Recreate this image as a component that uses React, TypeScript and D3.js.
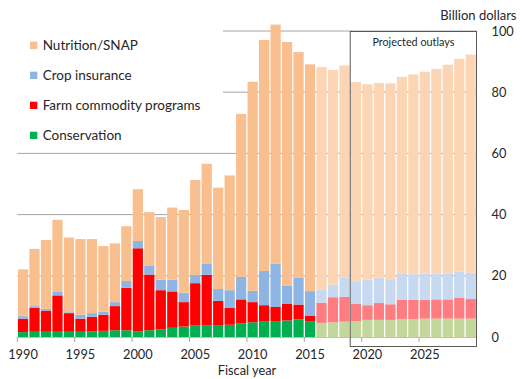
import React from "react";
import * as d3 from "d3";

const years: number[] = d3.range(1990, 2030);
const conservation = [1.6,1.7,1.7,1.7,1.7,1.7,1.9,2.0,2.2,2.2,1.9,2.2,2.4,3.0,3.4,3.7,3.7,3.7,4.0,4.5,4.8,5.2,5.2,5.4,5.8,5.2,4.6,4.8,5.0,5.2,5.6,5.6,5.6,5.9,5.8,6.0,6.0,6.0,6.0,6.0];
const commodity = [4.4,7.8,6.9,11.9,6.1,4.3,4.7,5.3,7.9,13.9,27.1,18.2,12.9,11.9,8.0,13.9,16.6,8.1,5.5,7.8,6.6,5.2,4.6,5.4,4.8,1.8,6.6,8.2,8.1,5.7,4.8,5.5,5.1,6.3,6.3,6.2,6.3,6.3,6.9,6.4];
const insurance = [0.8,0.6,0.6,1.1,0.3,1.3,1.2,1.0,1.3,2.2,2.4,2.8,3.4,3.8,3.1,2.7,3.6,3.9,5.8,7.3,3.7,11.2,14.1,5.9,8.7,8.0,4.2,4.1,6.4,7.3,8.3,8.3,8.2,8.4,8.4,8.5,8.5,8.5,8.4,8.6];
const nutrition = [15.3,18.7,22.5,23.6,24.4,24.7,24.2,21.4,19.2,17.9,16.9,17.6,20.5,23.6,27.0,31.0,32.7,33.1,37.5,53.3,68.3,75.5,78.2,79.7,73.8,74.1,72.8,70.2,69.2,65.1,63.9,63.6,64.0,64.4,65.3,66.0,66.8,68.2,69.6,71.3];
const firstEstimateYear = 2016;
const projectionStart = 2019;
const yTicks = [0, 20, 40, 60, 80, 100];
const xTickYears = [1990, 1995, 2000, 2005, 2010, 2015, 2020, 2025];

const seriesKeys = ["conservation", "commodity", "insurance", "nutrition"];
const legendItems = [
  { key: "nutrition", label: "Nutrition/SNAP" },
  { key: "insurance", label: "Crop insurance" },
  { key: "commodity", label: "Farm commodity programs" },
  { key: "conservation", label: "Conservation" },
];
const colors: Record<string, string> = {
  conservation: "#00B050",
  commodity: "#FF0000",
  insurance: "#8EB4E3",
  nutrition: "#F9BF8F",
};
const lightColors: Record<string, string> = {
  conservation: "#C3D69B",
  commodity: "#FF7C80",
  insurance: "#C6D9F1",
  nutrition: "#FCD5B5",
};

const FONT = "Lato, 'Open Sans', sans-serif";

export default function App() {
  const W = 522, H = 379;
  const table = years.map((y, i) => ({
    year: y,
    conservation: conservation[i],
    commodity: commodity[i],
    insurance: insurance[i],
    nutrition: nutrition[i],
  }));
  const stacked = d3.stack<any>().keys(seriesKeys)(table);

  const x = d3.scaleBand<number>().domain(years).range([17.3, 476.5]).paddingInner(0.11).paddingOuter(0.055);
  const y = d3.scaleLinear().domain([0, 100]).range([337, 31]);
  const step = x.step();
  const half = (step - x.bandwidth()) / 2;
  const edge = (yr: number) => (x(yr) as number) - half;
  const x0 = edge(1990);
  const x1 = edge(2029) + step;
  const boxX = edge(projectionStart);

  return (
    <svg width={W} height={H} style={{ position: "absolute", left: 0, top: 0, fontFamily: FONT }}>
      <rect width={W} height={H} fill="#fff" />
      {yTicks.filter((t) => t > 0).map((t) => (
        <line key={t} x1={x0} x2={x1} y1={y(t)} y2={y(t)} stroke="#A6A6A6" strokeWidth={1} />
      ))}
      <rect x={0} y={22} width={223} height={125} fill="#fff" />
      {stacked.map((s) => (
        <g key={s.key}>
          {s.map((d: any) => {
            const yr = d.data.year;
            const c = yr >= firstEstimateYear ? lightColors[s.key] : colors[s.key];
            return (
              <rect
                key={yr}
                x={x(yr)}
                width={x.bandwidth()}
                y={y(d[1])}
                height={y(d[0]) - y(d[1])}
                fill={c}
              />
            );
          })}
        </g>
      ))}
      <line x1={x0} x2={x1} y1={y(0) + 0.5} y2={y(0) + 0.5} stroke="#BFBFBF" strokeWidth={1} />
      {xTickYears.map((yr) => (
        <g key={yr}>
          <line x1={edge(yr)} x2={edge(yr)} y1={y(0)} y2={y(0) + 5} stroke="#A6A6A6" strokeWidth={1} />
          <text x={(x(yr) as number) + x.bandwidth() / 2} y={358.8} textAnchor="middle" fontSize={12.8} fill="#262626">
            {yr}
          </text>
        </g>
      ))}
      <text x={247} y={375.3} textAnchor="middle" fontSize={12.8} fill="#262626">Fiscal year</text>
      {yTicks.map((t) => (
        <text key={t} x={491.5} y={y(t)} dy="0.36em" fontSize={12.8} fill="#262626">{t}</text>
      ))}
      <text x={516.5} y={19.5} textAnchor="end" fontSize={13} fill="#262626">Billion dollars</text>
      <rect x={boxX} y={31.5} width={x1 - boxX} height={315} fill="none" stroke="#595959" strokeWidth={1} />
      <text x={(boxX + x1) / 2} y={46} textAnchor="middle" fontSize={10.8} fill="#262626">Projected outlays</text>
      {legendItems.map((it, i) => (
        <g key={it.key} transform={`translate(30, ${45.5 + i * 30})`}>
          <rect x={0} y={-3.8} width={7.3} height={7.3} fill={colors[it.key]} />
          <text x={12.7} y={0} dy="0.36em" fontSize={13.5} fill="#262626">{it.label}</text>
        </g>
      ))}
    </svg>
  );
}
